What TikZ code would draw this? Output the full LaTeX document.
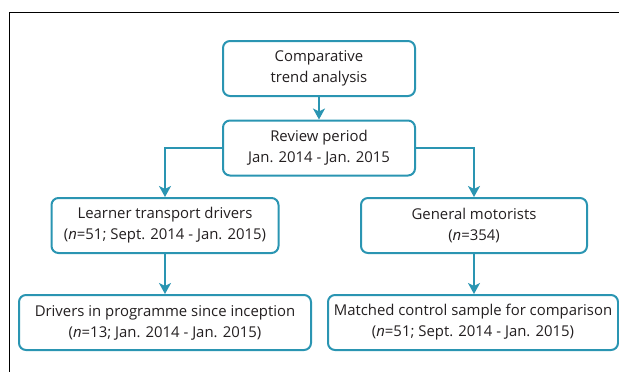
\documentclass[tikz,border=0pt]{standalone}
\usepackage{fontspec}
\setmainfont{Open Sans}
\usetikzlibrary{arrows.meta}
\definecolor{boxc}{HTML}{2A95B2}
\definecolor{txt}{HTML}{231F20}
\begin{document}
\begin{tikzpicture}[x=1pt,y=-1pt,
  box/.style={draw=boxc, line width=2pt, rounded corners=7pt, align=center,
    font=\fontsize{14.9}{21}\selectfont, text=txt, inner sep=0pt, minimum height=55pt},
  arr/.style={draw=boxc, line width=2pt, -{Stealth[length=11pt,width=12pt,inset=3pt]}}]
\useasboundingbox (0,0) rectangle (619,372);
\draw[line width=1pt] (9.5,372) -- (9.5,12) -- (619,12);
\node[box, minimum width=192pt] (a) at (319,68.5) {Comparative\\trend analysis};
\node[box, minimum width=192pt] (b) at (319,148) {Review period\\Jan. 2014 - Jan. 2015};
\node[box, minimum width=227pt] (c) at (165,225.5) {Learner transport drivers\\(\textit{n}=51; Sept. 2014 - Jan. 2015)};
\node[box, minimum width=226pt] (d) at (474,225.5) {General motorists\\(\textit{n}=354)};
\node[box, minimum width=292pt] (e) at (165,322.5) {Drivers in programme since inception\\(\textit{n}=13; Jan. 2014 - Jan. 2015)};
\node[box, minimum width=290pt] (f) at (473,322.5) {Matched control sample for comparison\\(\textit{n}=51; Sept. 2014 - Jan. 2015)};
\draw[arr] (a) -- (b);
\draw[arr] (b.west) -| (c.north);
\draw[arr] (b.east) -| (d.north);
\draw[arr] (c.south) -- (c.south |- e.north);
\draw[arr] (d.south) -- (d.south |- f.north);
\end{tikzpicture}
\end{document}
